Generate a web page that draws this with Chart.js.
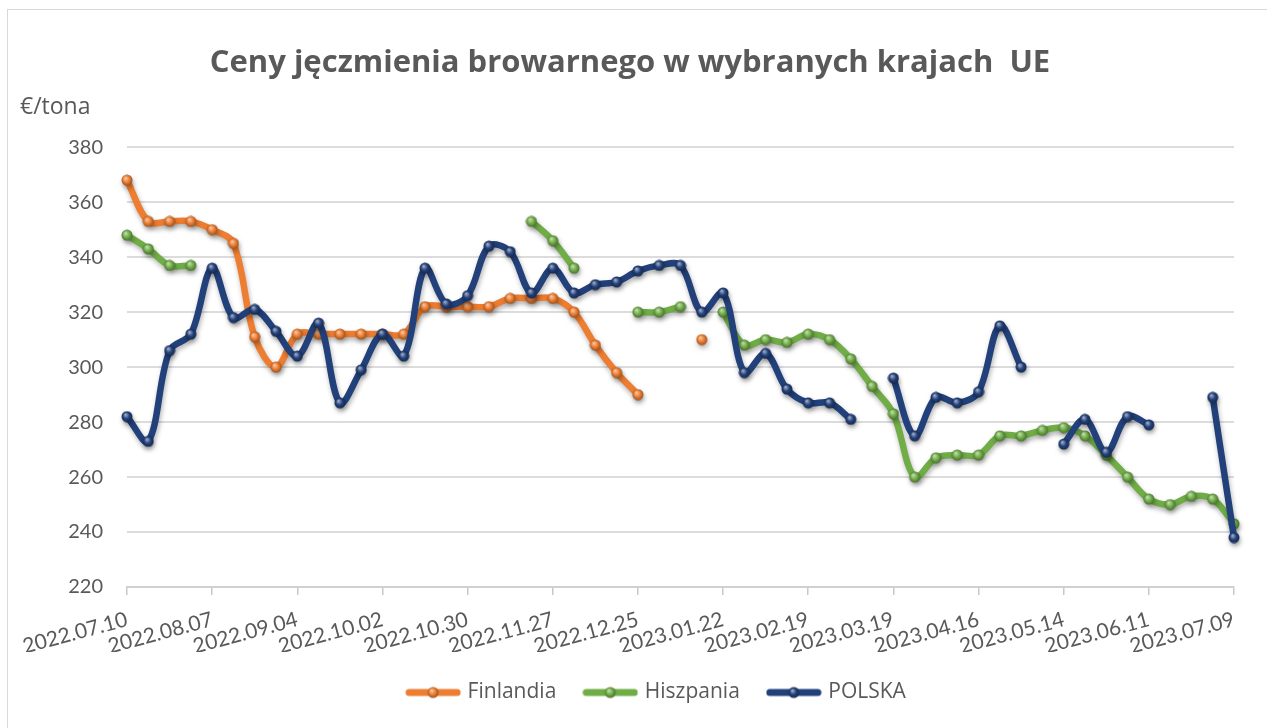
<!DOCTYPE html>
<html lang="pl">
<head>
<meta charset="utf-8">
<title>Ceny jęczmienia browarnego</title>
<script src="https://cdn.jsdelivr.net/npm/chart.js@4.4.1/dist/chart.umd.min.js"></script>
<style>
  html, body { margin: 0; padding: 0; background: #fff; overflow: hidden; }
  .ramka { position: absolute; left: 7px; top: 9px; width: 1300px; height: 760px; border: 1px solid #d9d9d9; }
  .wykres { position: absolute; left: 0; top: 0; width: 1267px; height: 728px; }
</style>
</head>
<body>
<div class="ramka"></div>
<div class="wykres"><canvas id="myChart" width="1267" height="728"></canvas></div>
<script>
// tygodnie (notowania co tydzien)
const tygodnie = [
  '2022.07.10', '2022.07.17', '2022.07.24', '2022.07.31', '2022.08.07', '2022.08.14', '2022.08.21', '2022.08.28',
  '2022.09.04', '2022.09.11', '2022.09.18', '2022.09.25', '2022.10.02', '2022.10.09', '2022.10.16', '2022.10.23',
  '2022.10.30', '2022.11.06', '2022.11.13', '2022.11.20', '2022.11.27', '2022.12.04', '2022.12.11', '2022.12.18',
  '2022.12.25', '2023.01.01', '2023.01.08', '2023.01.15', '2023.01.22', '2023.01.29', '2023.02.05', '2023.02.12',
  '2023.02.19', '2023.02.26', '2023.03.05', '2023.03.12', '2023.03.19', '2023.03.26', '2023.04.02', '2023.04.09',
  '2023.04.16', '2023.04.23', '2023.04.30', '2023.05.07', '2023.05.14', '2023.05.21', '2023.05.28', '2023.06.04',
  '2023.06.11', '2023.06.18', '2023.06.25', '2023.07.02', '2023.07.09'
]

const finlandia = [
  368, 353, 353, 353, 350, 345, 311, 300, 312, 312, 312, 312, 312, 312, 322, 322,
  322, 322, 325, 325, 325, 320, 308, 298, 290, null, null, 310, null, null, null, null,
  null, null, null, null, null, null, null, null, null, null, null, null, null, null, null, null,
  null, null, null, null, null
]

const hiszpania = [
  348, 343, 337, 337, null, null, null, null, null, null, null, null, null, null, null, null,
  null, null, null, 353, 346, 336, null, null, 320, 320, 322, null, 320, 308, 310, 309,
  312, 310, 303, 293, 283, 260, 267, 268, 268, 275, 275, 277, 278, 275, 268, 260,
  252, 250, 253, 252, 243
]

const polska = [
  282, 273, 306, 312, 336, 318, 321, 313, 304, 316, 287, 299, 312, 304, 336, 323,
  326, 344, 342, 327, 336, 327, 330, 331, 335, 337, 337, 320, 327, 298, 305, 292,
  287, 287, 281, null, 296, 275, 289, 287, 291, 315, 300, null, 272, 281, 269, 282,
  279, null, null, 289, 238
]

const nazwy = ['Finlandia', 'Hiszpania', 'POLSKA']
const kolory = ['#ed7d31', '#70ad47', '#22407a']
const tytul = 'Ceny jęczmienia browarnego w wybranych krajach  UE'
const jednostka = '€/tona'
const szary = '#595959'
const czcionka = 'Lato, "Open Sans", sans-serif'
const czcionka2 = '"Open Sans", Lato, sans-serif'

// rozjasnia/przyciemnia kolor
function odcien(hex, k) {
  let r = parseInt(hex.substr(1, 2), 16)
  let g = parseInt(hex.substr(3, 2), 16)
  let b = parseInt(hex.substr(5, 2), 16)
  let f = (c) => Math.round(k > 0 ? c + (255 - c) * k : c * (1 + k))
  return 'rgb(' + f(r) + ',' + f(g) + ',' + f(b) + ')'
}

// kulka jako znacznik punktu (efekt 3D jak w Excelu)
function kulka(kolor) {
  let c = document.createElement('canvas')
  c.width = 12
  c.height = 12
  let x = c.getContext('2d')
  let gr = x.createRadialGradient(4.5, 4, 0.5, 6, 6, 6)
  gr.addColorStop(0, odcien(kolor, 0.55))
  gr.addColorStop(0.5, kolor)
  gr.addColorStop(1, odcien(kolor, -0.4))
  x.fillStyle = gr
  x.beginPath()
  x.arc(6, 6, 5.5, 0, Math.PI * 2)
  x.fill()
  return c
}

// symbol legendy: linia z kulka
function symbolLegendy(kolor) {
  let c = document.createElement('canvas')
  c.width = 56
  c.height = 14
  let x = c.getContext('2d')
  x.strokeStyle = kolor
  x.lineWidth = 7
  x.lineCap = 'round'
  x.beginPath()
  x.moveTo(4, 7)
  x.lineTo(52, 7)
  x.stroke()
  x.drawImage(kulka(kolor), 22, 1)
  return c
}

const kulki = kolory.map(kulka)
const symbole = kolory.map(symbolLegendy)

// cien pod liniami
const cien = {
  id: 'cien',
  beforeDatasetsDraw(chart) {
    const ctx = chart.ctx
    ctx.save()
    ctx.shadowColor = 'rgba(0,0,0,0.30)'
    ctx.shadowBlur = 5
    ctx.shadowOffsetX = 1
    ctx.shadowOffsetY = 3
  },
  afterDatasetsDraw(chart) {
    chart.ctx.restore()
  }
}

// napis jednostki nad osia Y + lekkie przesuniecie legendy w lewo
const opisOsi = {
  id: 'opisOsi',
  afterLayout(chart) {
    chart.legend.left -= 23
    chart.legend.right -= 23
  },
  afterDraw(chart) {
    const ctx = chart.ctx
    const a = chart.chartArea
    ctx.save()
    ctx.fillStyle = szary
    ctx.font = '23px ' + czcionka2
    ctx.textAlign = 'left'
    ctx.textBaseline = 'middle'
    ctx.fillText(jednostka, a.left - 107, a.top - 40)
    ctx.restore()
  }
}

const seria = [finlandia, hiszpania, polska]

const data = {
  labels: tygodnie,
  datasets: seria.map((d, i) => ({
    label: nazwy[i],
    data: d,
    borderColor: kolory[i],
    backgroundColor: kolory[i],
    borderWidth: 6.5,
    tension: 0.35,
    spanGaps: false,
    pointStyle: kulki[i],
    pointRadius: 6,
    pointHoverRadius: 6,
    borderCapStyle: 'round',
    borderJoinStyle: 'round',
    order: 3 - i
  }))
}

const config = {
  type: 'line',
  data: data,
  plugins: [cien, opisOsi],
  options: {
    responsive: false,
    animation: false,
    layout: { padding: { left: 26, right: 33, top: 0, bottom: 15 } },
    plugins: {
      title: {
        display: true,
        text: tytul,
        color: szary,
        font: { family: czcionka2, size: 31, weight: 'bold' },
        padding: { top: 45, bottom: 65 }
      },
      legend: {
        position: 'bottom',
        fullSize: false,
        labels: {
          color: szary,
          font: { family: czcionka2, size: 21 },
          usePointStyle: true,
          pointStyleWidth: 48,
          padding: 30,
          sort: (a, b) => a.datasetIndex - b.datasetIndex,
          generateLabels: (chart) => {
            let items = Chart.defaults.plugins.legend.labels.generateLabels(chart)
            items.forEach(it => { it.pointStyle = symbole[it.datasetIndex] })
            return items
          }
        }
      },
      tooltip: { enabled: false }
    },
    scales: {
      x: {
        offset: false,
        border: { display: true, color: '#d0d0d0', width: 2 },
        grid: {
          drawOnChartArea: false,
          drawTicks: true,
          tickLength: 8,
          lineWidth: 1.5,
          color: (c) => c.index % 4 === 0 ? '#c8c8c8' : 'rgba(0,0,0,0)'
        },
        ticks: {
          autoSkip: false,
          maxRotation: 15,
          minRotation: 15,
          padding: 12,
          color: szary,
          font: { family: czcionka, size: 21 },
          callback: (v, i) => i % 4 === 0 ? tygodnie[i] : ''
        },
        afterFit: (s) => { s.height = 65 }
      },
      y: {
        min: 220,
        max: 380,
        border: { display: false },
        grid: { color: '#dcdcdc', lineWidth: 2, drawTicks: false },
        ticks: {
          stepSize: 20,
          padding: 24,
          color: szary,
          font: { family: czcionka, size: 20 }
        },
        afterFit: (s) => { s.width = 101 }
      }
    }
  }
}

const myChart = new Chart(
  document.getElementById('myChart'),
  config
)
</script>
</body>
</html>
